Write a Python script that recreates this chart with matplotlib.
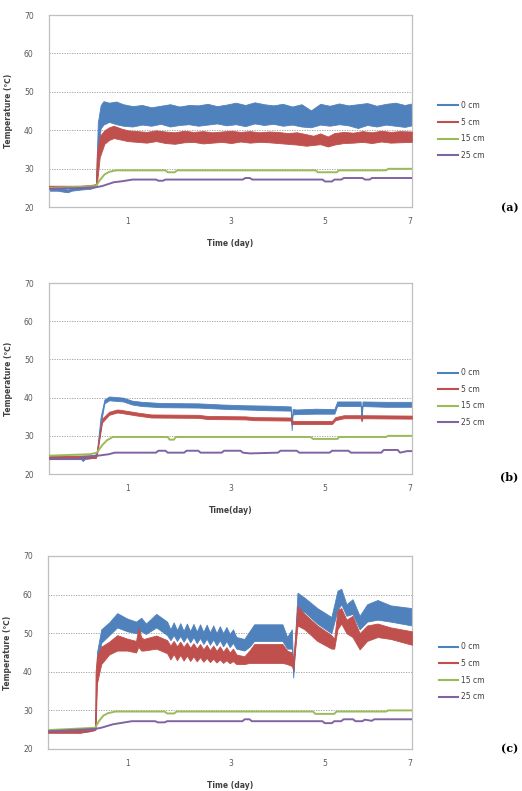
import matplotlib
matplotlib.use("Agg")
import matplotlib.pyplot as plt
from matplotlib.lines import Line2D

# colours of the four probes (Excel 2007 palette)
BLUE = "#4f81bd"
RED = "#c0504d"
GREEN = "#9bbb59"
PURPLE = "#8064a2"

series_names = ["0 cm", "5 cm", "15 cm", "25 cm"]
tick_pos = [1, 3.2, 5.2, 7]
tick_labels = ["1", "3", "5", "7"]

# ---------------- panel (a) ----------------
a_blue_t = [-0.68, -0.5, -0.35, -0.28, -0.2, 0.0, 0.2, 0.32, 0.36, 0.42, 0.48, 0.6, 0.75, 0.9,
            1.1, 1.3, 1.5, 1.7, 1.9, 2.1, 2.3, 2.5, 2.7, 2.9, 3.1, 3.3, 3.5, 3.7, 3.9,
            4.1, 4.3, 4.5, 4.7, 4.9, 5.1, 5.3, 5.5, 5.7, 5.9, 6.1, 6.3, 6.5, 6.7, 6.9, 7.05]
a_blue_hi = [25.0, 25.0, 24.8, 24.6, 25.0, 25.2, 25.4, 26.0, 42.0, 46.5, 47.6, 47.2, 47.5, 46.8,
             46.3, 46.6, 46.0, 46.4, 46.8, 46.2, 46.6, 46.5, 46.9, 46.3, 46.7, 47.2, 46.6, 47.3, 46.8,
             46.5, 46.9, 46.2, 46.8, 45.2, 46.9, 46.4, 47.0, 46.5, 46.8, 47.1, 46.4, 46.9, 47.2, 46.6, 47.0]
a_blue_lo = [24.3, 24.3, 24.0, 23.9, 24.3, 24.6, 24.8, 25.3, 34.0, 40.5, 41.5, 42.2, 41.6, 41.2,
             41.0, 41.5, 41.2, 41.7, 41.0, 41.4, 41.6, 41.2, 41.5, 41.8, 41.3, 41.6, 41.1, 41.8, 41.4,
             41.7, 41.2, 41.5, 41.0, 40.8, 41.5, 41.2, 41.6, 41.3, 40.6, 41.4, 41.0, 41.5, 41.2, 40.9, 41.3]

a_red_t = [-0.68, -0.3, 0.0, 0.2, 0.32, 0.34, 0.4, 0.5, 0.6, 0.7, 0.85, 1.0, 1.2, 1.4, 1.6,
           1.8, 2.0, 2.2, 2.4, 2.6, 2.8, 3.0, 3.2, 3.4, 3.6, 3.8, 4.0, 4.2, 4.4, 4.6,
           4.8, 4.95, 5.1, 5.26, 5.4, 5.6, 5.8, 6.0, 6.2, 6.4, 6.6, 6.8, 7.05]
a_red_hi = [25.6, 25.6, 25.6, 25.8, 26.0, 34.0, 38.5, 40.0, 40.8, 41.2, 40.5, 40.0, 39.8, 39.6, 40.0,
            39.7, 39.5, 39.9, 39.6, 39.8, 39.5, 39.7, 39.9, 39.6, 39.8, 39.5, 39.7, 39.6, 39.3, 39.5,
            39.0, 38.6, 39.2, 38.4, 39.3, 39.6, 39.4, 39.8, 39.5, 39.9, 39.6, 39.8, 39.7]
a_red_lo = [25.0, 25.0, 25.0, 25.2, 25.4, 26.0, 33.0, 36.5, 37.5, 38.0, 37.6, 37.2, 37.0, 36.8, 37.2,
            36.7, 36.5, 36.9, 37.0, 36.6, 36.8, 37.0, 36.7, 37.1, 36.8, 37.0, 36.9, 36.7, 36.5, 36.3,
            36.0, 36.2, 36.4, 35.8, 36.3, 36.7, 36.8, 37.0, 36.7, 37.1, 36.8, 36.9, 37.0]

a_green_t = [-0.68, 0.32, 0.4, 0.5, 0.6, 0.75, 1.8, 1.85, 2.0, 2.05, 5.0, 5.05, 5.45, 5.5, 6.5, 6.55, 7.05]
a_green = [25.0, 25.5, 27.0, 28.5, 29.2, 29.6, 29.6, 29.1, 29.1, 29.6, 29.6, 29.1, 29.1, 29.6, 29.6, 30.0, 30.0]

a_purple_t = [-0.68, 0.0, 0.32, 0.45, 0.7, 0.9, 1.1, 1.6, 1.65, 1.75, 1.8, 3.45, 3.5, 3.6, 3.65,
              5.15, 5.2, 5.35, 5.4, 5.55, 5.6, 6.0, 6.05, 6.15, 6.2, 7.05]
a_purple = [24.8, 25.0, 25.2, 25.5, 26.5, 26.8, 27.2, 27.2, 26.9, 26.9, 27.2, 27.2, 27.6, 27.6, 27.2,
            27.2, 26.7, 26.7, 27.2, 27.2, 27.6, 27.6, 27.2, 27.2, 27.6, 27.6]

# ---------------- panel (b) ----------------
b_blue_t = [-0.68, 0.0, 0.04, 0.08, 0.3, 0.34, 0.42, 0.5, 0.6, 0.9, 1.09, 1.3, 1.7, 2.5, 3.0,
            3.5, 4.0, 4.47, 4.49, 4.51, 4.6, 5.0, 5.4, 5.46, 5.96, 5.98, 6.0, 6.5, 7.05]
b_blue_hi = [24.6, 24.6, 24.2, 24.6, 25.0, 26.0, 35.0, 39.5, 40.3, 40.0, 39.2, 38.9, 38.6, 38.5, 38.2,
             38.0, 37.9, 37.7, 33.0, 37.0, 36.9, 37.1, 37.0, 39.0, 39.0, 35.0, 39.0, 38.9, 38.9]
b_blue_lo = [23.9, 23.9, 23.4, 23.9, 24.3, 25.0, 33.0, 38.5, 39.3, 39.0, 38.2, 37.8, 37.5, 37.4, 37.1,
             36.9, 36.7, 36.6, 31.5, 35.6, 35.7, 35.8, 35.8, 37.8, 37.8, 34.5, 37.8, 37.6, 37.6]

b_red_t = [-0.68, 0.32, 0.34, 0.45, 0.6, 0.77, 0.85, 1.2, 1.5, 2.5, 2.7, 3.5, 3.7, 4.47, 4.51,
           5.35, 5.42, 5.6, 5.96, 5.98, 6.0, 7.05]
b_red_hi = [24.7, 24.9, 26.0, 34.5, 36.3, 36.9, 36.8, 36.1, 35.6, 35.5, 35.2, 35.1, 34.9, 34.8, 33.9,
            33.9, 34.9, 35.4, 35.4, 34.4, 35.4, 35.3]
b_red_lo = [24.0, 24.2, 25.0, 33.5, 35.5, 36.1, 36.0, 35.3, 34.8, 34.7, 34.4, 34.3, 34.1, 34.0, 33.1,
            33.1, 34.1, 34.6, 34.6, 33.8, 34.6, 34.5]

b_green_t = [-0.68, 0.2, 0.34, 0.45, 0.55, 0.68, 1.85, 1.89, 1.98, 2.02, 4.9, 4.94, 5.47, 5.5, 6.5, 6.55, 7.05]
b_green = [24.8, 25.2, 25.6, 27.5, 28.8, 29.7, 29.7, 29.0, 29.0, 29.7, 29.7, 29.2, 29.2, 29.7, 29.7, 30.0, 30.0]

b_purple_t = [-0.68, 0.0, 0.04, 0.3, 0.6, 0.72, 1.6, 1.65, 1.8, 1.85, 2.2, 2.25, 2.5, 2.55, 3.0,
              3.05, 3.4, 3.45, 3.6, 4.2, 4.25, 4.6, 4.65, 5.3, 5.35, 5.7, 5.75, 6.4, 6.45, 6.75,
              6.8, 6.95, 7.05]
b_purple = [24.0, 24.0, 24.5, 24.7, 25.2, 25.6, 25.6, 26.1, 26.1, 25.6, 25.6, 26.1, 26.1, 25.6, 25.6,
            26.1, 26.1, 25.6, 25.4, 25.6, 26.1, 26.1, 25.6, 25.6, 26.1, 26.1, 25.6, 25.6, 26.3, 26.3,
            25.6, 26.0, 26.0]

# ---------------- panel (c) ----------------
c_blue_t = [-0.68, 0.0, 0.2, 0.32, 0.36, 0.45, 0.62, 0.79, 1.0, 1.19, 1.3, 1.4, 1.62, 1.85, 1.92,
            1.99, 2.06, 2.13, 2.2, 2.27, 2.34, 2.41, 2.48, 2.55, 2.62, 2.69, 2.76, 2.83, 2.9, 2.97,
            3.04, 3.11, 3.18, 3.25, 3.32, 3.49, 3.6, 3.7, 4.3, 4.4, 4.5, 4.53, 4.62, 4.77, 5.04,
            5.34, 5.47, 5.55, 5.66, 5.79, 5.94, 6.1, 6.32, 6.6, 7.05]
c_blue_hi = [24.9, 24.9, 25.2, 25.5, 45.0, 51.0, 52.8, 55.2, 53.8, 53.0, 54.0, 52.5, 55.0, 53.0, 51.0,
             52.8, 50.8, 52.6, 50.6, 52.5, 50.5, 52.4, 50.4, 52.3, 50.3, 52.2, 50.2, 52.0, 50.0, 51.8,
             50.0, 51.6, 49.8, 51.0, 49.0, 48.5, 50.5, 52.3, 52.3, 49.0, 51.0, 40.0, 60.5, 59.2, 56.5,
             54.2, 61.0, 61.5, 57.5, 58.8, 54.5, 57.5, 58.6, 57.2, 56.5]
c_blue_lo = [24.3, 24.3, 24.6, 24.9, 40.0, 47.5, 49.5, 51.5, 50.5, 50.0, 50.5, 49.8, 51.5, 49.5, 48.2,
             49.5, 48.0, 49.3, 47.8, 49.2, 47.6, 49.0, 47.4, 48.8, 47.2, 48.6, 47.0, 48.4, 46.8, 48.2,
             46.6, 48.0, 46.4, 47.5, 46.0, 45.5, 46.5, 48.0, 48.0, 46.0, 46.0, 38.5, 56.5, 55.5, 52.5,
             50.0, 56.0, 57.5, 54.5, 55.0, 51.0, 53.0, 53.5, 53.0, 52.0]

c_red_t = [-0.68, 0.0, 0.2, 0.32, 0.33, 0.36, 0.45, 0.62, 0.79, 1.0, 1.19, 1.24, 1.3, 1.35, 1.62,
           1.85, 1.92, 1.99, 2.06, 2.13, 2.2, 2.27, 2.34, 2.41, 2.48, 2.55, 2.62, 2.69, 2.76, 2.83,
           2.9, 2.97, 3.04, 3.11, 3.18, 3.25, 3.32, 3.49, 3.6, 3.7, 4.3, 4.4, 4.5, 4.53, 4.62,
           4.77, 5.04, 5.34, 5.4, 5.47, 5.55, 5.66, 5.79, 5.94, 6.1, 6.32, 6.6, 7.05]
c_red_hi = [24.9, 24.9, 25.3, 25.6, 40.0, 44.0, 46.5, 47.8, 49.5, 48.6, 48.0, 51.5, 49.0, 48.5, 49.4,
            48.2, 46.8, 48.0, 46.6, 47.8, 46.4, 47.6, 46.2, 47.4, 46.0, 47.2, 45.8, 47.0, 45.6, 46.8,
            45.4, 46.6, 45.2, 46.4, 45.0, 46.0, 44.5, 44.0, 45.5, 47.2, 47.2, 45.5, 45.0, 43.0, 57.0,
            55.0, 52.0, 49.5, 48.5, 56.0, 56.5, 53.5, 54.5, 50.0, 52.0, 52.5, 51.5, 50.5]
c_red_lo = [24.2, 24.2, 24.6, 25.0, 25.0, 37.0, 42.0, 44.5, 45.5, 45.5, 45.0, 46.5, 45.5, 45.5, 46.0,
            44.8, 43.2, 44.6, 43.0, 44.4, 42.9, 44.2, 42.8, 44.0, 42.7, 43.8, 42.6, 43.6, 42.5, 43.4,
            42.4, 43.2, 42.3, 43.0, 42.2, 42.8, 42.0, 42.0, 42.3, 42.3, 42.3, 42.0, 41.5, 40.5, 52.0,
            51.0, 48.0, 46.0, 46.0, 51.0, 52.5, 50.0, 49.0, 45.8, 48.0, 49.0, 48.5, 47.0]

c_green_t = [-0.68, 0.32, 0.4, 0.5, 0.6, 0.75, 1.8, 1.85, 2.0, 2.05, 4.95, 5.0, 5.4, 5.45, 6.5, 6.55, 7.05]
c_green = [24.9, 25.5, 27.2, 28.7, 29.3, 29.7, 29.7, 29.2, 29.2, 29.7, 29.7, 29.1, 29.1, 29.7, 29.7, 30.0, 30.0]

c_purple_t = [-0.68, 0.32, 0.45, 0.7, 0.9, 1.1, 1.6, 1.65, 1.8, 1.85, 3.45, 3.5, 3.6, 3.65, 5.15,
              5.2, 5.35, 5.4, 5.55, 5.6, 5.8, 5.85, 6.0, 6.05, 6.2, 6.25, 7.05]
c_purple = [24.6, 25.2, 25.5, 26.4, 26.8, 27.2, 27.2, 26.9, 26.9, 27.2, 27.2, 27.7, 27.7, 27.2, 27.2,
            26.7, 26.7, 27.2, 27.2, 27.7, 27.7, 27.2, 27.2, 27.6, 27.3, 27.7, 27.7]


def draw_panel(ax, blue, red, green, purple, xlabel):
    ax.fill_between(blue[0], blue[2], blue[1], color=BLUE, lw=0.6, zorder=2)
    ax.fill_between(red[0], red[2], red[1], color=RED, lw=0.6, zorder=3)
    ax.plot(green[0], green[1], color=GREEN, lw=1.4, zorder=4)
    ax.plot(purple[0], purple[1], color=PURPLE, lw=1.4, zorder=5)

    ax.set_xlim(-0.68, 7.05)
    ax.set_ylim(20, 70)
    ax.set_yticks([20, 30, 40, 50, 60, 70])
    ax.set_xticks(tick_pos)
    ax.set_xticklabels(tick_labels)
    ax.tick_params(length=0, labelsize=5.5, labelcolor="#595959")
    ax.tick_params(axis="y", pad=11)
    ax.tick_params(axis="x", pad=7)
    ax.yaxis.grid(True, color="#9a9a9a", lw=0.6, linestyle=(0, (1.5, 1.5)))
    ax.set_axisbelow(True)
    for sp in ax.spines.values():
        sp.set_color("#bfbfbf")
        sp.set_linewidth(0.9)

    ax.set_ylabel("Temperature (\u2103)", fontsize=5.5, fontweight="bold", color="#404040")
    ax.yaxis.set_label_coords(-0.1, 0.5)
    ax.set_xlabel(xlabel, fontsize=5.5, fontweight="bold", color="#404040")
    ax.xaxis.set_label_coords(0.5, -0.165)

    handles = [Line2D([], [], color=c, lw=1.5) for c in [BLUE, RED, GREEN, PURPLE]]
    leg = ax.legend(handles, series_names, loc="center left", bbox_to_anchor=(1.065, 0.40),
                    frameon=False, fontsize=5.5, handlelength=2.6, labelspacing=1.0,
                    handletextpad=0.3, borderaxespad=0)
    for txt in leg.get_texts():
        txt.set_color("#404040")


fig = plt.figure(figsize=(5.22, 7.91), dpi=100)

ax_a = fig.add_axes([0.0939, 0.738, 0.695, 0.243])
ax_b = fig.add_axes([0.0939, 0.4007, 0.695, 0.2415])
ax_c = fig.add_axes([0.0920, 0.0531, 0.697, 0.244])

draw_panel(ax_a, (a_blue_t, a_blue_hi, a_blue_lo), (a_red_t, a_red_hi, a_red_lo),
           (a_green_t, a_green), (a_purple_t, a_purple), "Time (day)")
draw_panel(ax_b, (b_blue_t, b_blue_hi, b_blue_lo), (b_red_t, b_red_hi, b_red_lo),
           (b_green_t, b_green), (b_purple_t, b_purple), "Time(day)")
draw_panel(ax_c, (c_blue_t, c_blue_hi, c_blue_lo), (c_red_t, c_red_hi, c_red_lo),
           (c_green_t, c_green), (c_purple_t, c_purple), "Time (day)")

for lab, y in [("(a)", 0.737), ("(b)", 0.397), ("(c)", 0.053)]:
    fig.text(0.993, y, lab, ha="right", va="center", fontfamily="DejaVu Serif",
             fontweight="bold", fontsize=8)

fig.savefig("out.png", dpi=100)
